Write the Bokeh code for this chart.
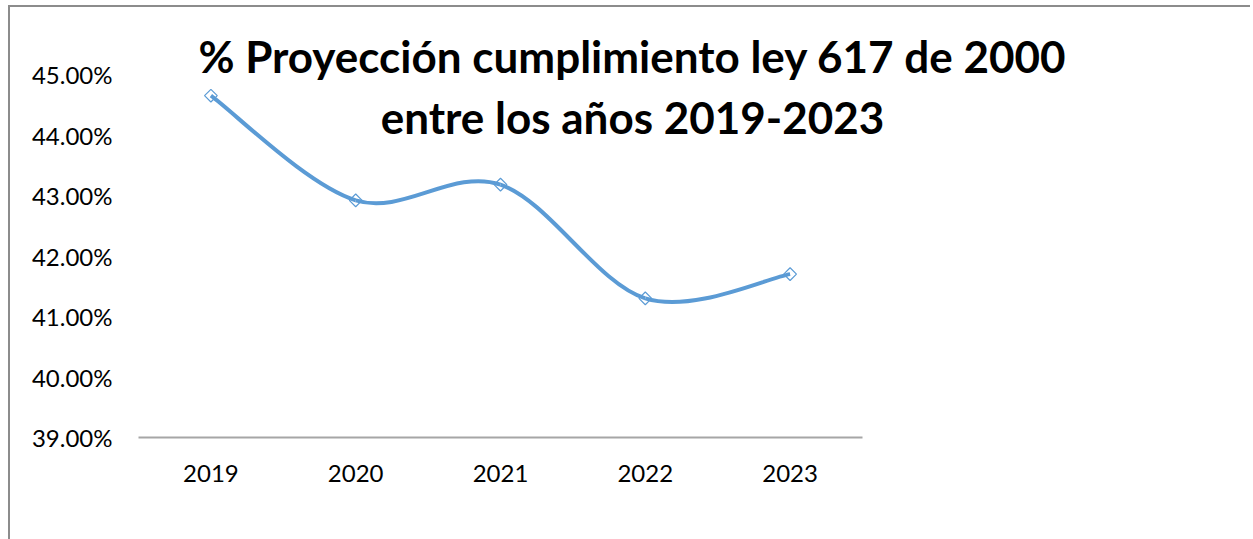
from bokeh.plotting import figure
from bokeh.models import (Range1d, FixedTicker, PrintfTickFormatter, Label,
                          Legend, LegendItem, ColumnDataSource)
from bokeh.embed import file_html
from bokeh.resources import INLINE
import math

# ---- data ----
years = ["2019", "2020", "2021", "2022", "2023"]
cumplimiento = [44.65, 42.92, 43.18, 41.30, 41.70]
y_ticks = [39, 40, 41, 42, 43, 44, 45]
title_line1 = "% Proyección cumplimiento ley 617 de 2000"
title_line2 = "entre los años 2019-2023"
series_name = "% CUMPLIMIENTO LEY 617"

FONT = "Lato"
BLUE = "#5B9BD5"

xs = list(range(len(years)))

# smoothed line (Catmull-Rom style Bezier control points from the data)
k = 1.0 / 6.0
n = len(xs)
seg = dict(x0=[], y0=[], x1=[], y1=[], cx0=[], cy0=[], cx1=[], cy1=[])
for i in range(n - 1):
    p0 = (xs[max(i - 1, 0)], cumplimiento[max(i - 1, 0)])
    p1 = (xs[i], cumplimiento[i])
    p2 = (xs[i + 1], cumplimiento[i + 1])
    p3 = (xs[min(i + 2, n - 1)], cumplimiento[min(i + 2, n - 1)])
    seg["x0"].append(p1[0]); seg["y0"].append(p1[1])
    seg["x1"].append(p2[0]); seg["y1"].append(p2[1])
    seg["cx0"].append(p1[0] + k * (p2[0] - p0[0]))
    seg["cy0"].append(p1[1] + k * (p2[1] - p0[1]))
    seg["cx1"].append(p2[0] - k * (p3[0] - p1[0]))
    seg["cy1"].append(p2[1] - k * (p3[1] - p1[1]))

# ---- layout (pixels inside the figure) ----
W, H = 1240, 522
FRAME_LEFT = 128          # left edge of the plotting area
FRAME_RIGHT = 1124        # right edge of the plotting area
FRAME_BOTTOM = 430        # y pixel of the 39% baseline
TOP_TICK_PX = 67          # y pixel of the 45% tick
CAT_W = 144.8             # pixel width of one category
frame_w = FRAME_RIGHT - FRAME_LEFT
x_start = -0.5
x_end = x_start + frame_w / CAT_W
ratio = TOP_TICK_PX / FRAME_BOTTOM
y0v, y1v = y_ticks[0], y_ticks[-1]
y_end = (y1v - y0v * ratio) / (1 - ratio)

p = figure(width=W, height=H, frame_width=frame_w, frame_height=FRAME_BOTTOM,
           output_backend="svg", toolbar_location=None,
           x_range=Range1d(x_start, x_end), y_range=Range1d(y0v, y_end),
           min_border_left=FRAME_LEFT, min_border_right=W - FRAME_RIGHT,
           min_border_top=0, min_border_bottom=0)
p.styles = {"border-top": "2px solid #8c8c8c", "border-left": "2px solid #8c8c8c",
            "margin-left": "8px", "margin-top": "5px"}
p.outline_line_color = None
p.xgrid.grid_line_color = None
p.ygrid.grid_line_color = None
p.background_fill_color = "white"
p.border_fill_color = "white"

# x axis
p.xaxis.ticker = FixedTicker(ticks=xs)
p.xaxis.bounds = (-0.5, len(years) - 0.5)
p.xaxis.major_label_overrides = {i: y for i, y in enumerate(years)}
p.xaxis.axis_label = None
p.xaxis.axis_label_standoff = 0
p.xaxis.axis_line_color = "#A6A6A6"
p.xaxis.axis_line_width = 2
p.xaxis.major_tick_line_color = None
p.xaxis.minor_tick_line_color = None
p.xaxis.major_tick_out = 0
p.xaxis.major_tick_in = 0
p.xaxis.minor_tick_out = 0
p.xaxis.major_label_standoff = 27
p.xaxis.major_label_text_font = FONT
p.xaxis.major_label_text_font_size = "24px"
p.xaxis.major_label_text_color = "black"

# y axis
p.yaxis.ticker = FixedTicker(ticks=y_ticks)
p.yaxis.formatter = PrintfTickFormatter(format="%.2f%%")
p.yaxis.axis_line_color = None
p.yaxis.major_tick_line_color = None
p.yaxis.minor_tick_line_color = None
p.yaxis.major_tick_out = 0
p.yaxis.major_tick_in = 0
p.yaxis.major_label_standoff = 26
p.yaxis.major_label_text_font = FONT
p.yaxis.major_label_text_font_size = "24px"
p.yaxis.major_label_text_color = "black"

src = ColumnDataSource(seg)
line_r = p.bezier(x0="x0", y0="y0", x1="x1", y1="y1", cx0="cx0", cy0="cy0",
                  cx1="cx1", cy1="cy1", source=src, line_color=BLUE, line_width=4)
pts_r = p.scatter(xs, cumplimiento, marker="square", angle=math.pi / 4, size=9,
                  fill_color=None, line_color=BLUE, line_width=1.2)

# title (overlapping the plot like the original)
for txt, yy in [(title_line1, 382), (title_line2, 321)]:
    p.add_layout(Label(x=494, y=yy, x_units="screen", y_units="screen", text=txt,
                       text_align="center", text_baseline="alphabetic",
                       text_font=FONT, text_font_style="bold",
                       text_font_size="44px", text_color="black"))

legend = Legend(items=[LegendItem(label=series_name, renderers=[line_r, pts_r])],
                location="top_center", orientation="horizontal",
                glyph_width=53, glyph_height=26, label_height=26,
                label_standoff=5, padding=0, margin=4, spacing=0,
                border_line_color=None, background_fill_alpha=0,
                label_text_font=FONT, label_text_font_size="24px",
                label_text_color="black")
p.add_layout(legend, "below")

open("out.html", "w").write(file_html(p, INLINE))
